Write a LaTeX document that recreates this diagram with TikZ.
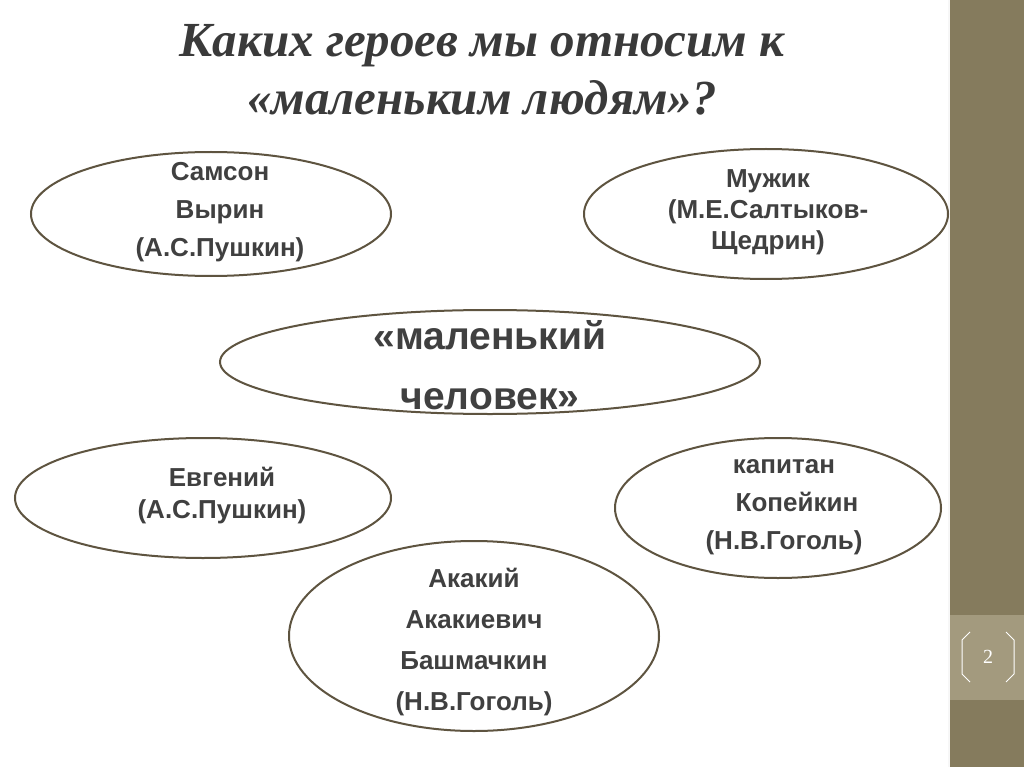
\documentclass[tikz,border=0pt]{standalone}
\usepackage{fontspec}
\setmainfont{Liberation Sans}
\newfontfamily\titlefont{Liberation Serif}
\definecolor{olive}{HTML}{5E5440}
\definecolor{strip}{HTML}{857B5D}
\definecolor{slot}{HTML}{A39A7E}
\definecolor{ink}{HTML}{404040}
\begin{document}
\begin{tikzpicture}[
    x=1pt, y=-1pt,
    hero/.style={draw=olive, line width=2pt, fill=white},
    herotext/.style={font=\fontsize{26}{38}\selectfont\bfseries, text=ink, align=center},
  ]
  % background and side strip
  \fill[gray!6] (0,0) rectangle (1024,767);
  \fill[white] (0,0) rectangle (948,767);
  \fill[strip] (950,0) rectangle (1024,767);
  \fill[slot] (950,615) rectangle (1024,700);
  \draw[white, line width=1pt] (970,632) -- (962,640) -- (962,674) -- (970,682);
  \draw[white, line width=1pt] (1006,632) -- (1014,640) -- (1014,674) -- (1006,682);
  \node[font=\titlefont\fontsize{20}{20}\selectfont, text=white] (page) at (988,657) {2};
  % title
  \node[font=\titlefont\fontsize{49}{58}\selectfont\bfseries\itshape, text=ink!90!black, align=center] (title) at (482,70) {Каких героев мы относим к\\«маленьким людям»?};
  % ellipses
  \draw[hero] (211,214) ellipse [x radius=180, y radius=62];
  \draw[hero] (766,214) ellipse [x radius=182, y radius=65];
  \draw[hero] (490,362) ellipse [x radius=270, y radius=52];
  \draw[hero] (203,498) ellipse [x radius=188, y radius=60];
  \draw[hero] (778,508) ellipse [x radius=163, y radius=70];
  \draw[hero] (474,636) ellipse [x radius=185, y radius=95];
  % texts
  \node[herotext] (samson) at (220,212) {Самсон\\Вырин\\(А.С.Пушкин)};
  \node[herotext, font=\fontsize{26}{31}\selectfont\bfseries] (muzhik) at (768,212) {Мужик\\(М.Е.Салтыков-\\Щедрин)};
  \node[herotext, font=\fontsize{39}{60}\selectfont\bfseries] (center) at (490,365) {«маленький\\человек»};
  \node[herotext, font=\fontsize{26}{32}\selectfont\bfseries] (evgeny) at (222,496) {Евгений\\(А.С.Пушкин)};
  \node[herotext, font=\fontsize{26}{38}\selectfont\bfseries] (kapitan) at (784,507) {капитан\\\quad Копейкин\\(Н.В.Гоголь)};
  \node[herotext, font=\fontsize{26}{41}\selectfont\bfseries] (akaky) at (474,642) {Акакий\\Акакиевич\\Башмачкин\\(Н.В.Гоголь)};
\end{tikzpicture}
\end{document}
